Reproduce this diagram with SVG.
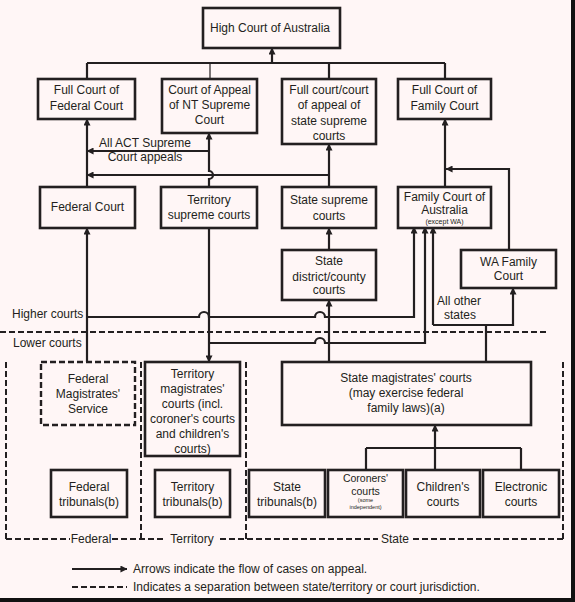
<svg xmlns="http://www.w3.org/2000/svg" width="575" height="602" viewBox="0 0 575 602">
<style>
text{font-family:"Liberation Sans",Arial,sans-serif;font-size:12px;fill:#231f20;text-anchor:middle}
.l{text-anchor:start}
.sm{font-size:7px}
.cr{font-size:10.5px}
.xs{font-size:5.5px}
.box{fill:none;stroke:#231f20;stroke-width:2.6}
.dbox{fill:none;stroke:#231f20;stroke-width:2.4;stroke-dasharray:6 3}
.c{fill:none;stroke:#231f20;stroke-width:2.2}
.a{marker-end:url(#ah)}
.d{fill:none;stroke:#231f20;stroke-width:2;stroke-dasharray:6 3}
</style>
<defs>
<marker id="ah" viewBox="0 0 8 8" refX="7.5" refY="4" markerWidth="7" markerHeight="7" markerUnits="userSpaceOnUse" orient="auto">
<path d="M0,0 L8,4 L0,8 z" fill="#231f20"/>
</marker>
</defs>
<rect width="575" height="602" fill="#fff6f6"/>
<rect x="571" y="0" width="4" height="602" fill="#111"/>
<rect x="0" y="598" width="575" height="4" fill="#111"/>

<g id="connectors">
<path class="c" d="M87,63 H445"/>
<path class="c" d="M87,63 V79 M329,63 V79 M445,63 V79"/>
<path d="M210,63 V79" fill="none" stroke="#231f20" stroke-width="1.2"/>
<path class="c a" d="M272,63 V48"/>
<path class="c a" d="M87,187 V119"/>
<path class="c a" d="M209,151 H87"/>
<path class="c a" d="M329,175 H87"/>
<path class="c a" d="M209,187 V179 a4,4 0 0 0 0,-8 V133"/>
<path class="c a" d="M329,187 V144"/>
<path class="c a" d="M445,187 V119"/>
<path class="c a" d="M509,250 V169 H446"/>
<path class="c a" d="M329,250 V228"/>
<path class="c a" d="M329,362 V300"/>
<path class="c a" d="M87,362 V228"/>
<path class="c a" d="M87,317 H199 a5,5 0 0 1 10,0 H315 a5,5 0 0 1 10,0 H414 V227"/>
<path class="c a" d="M209,228 V362"/>
<path class="c a" d="M209,343 H315 a5,5 0 0 1 10,0 H425 V227"/>
<path class="c a" d="M433,325 V227"/>
<path class="c a" d="M433,325 H513 V288"/>
<path class="c" d="M486,362 V325"/>
<path class="c a" d="M435,448 V425"/>
<path class="c" d="M366,448 H521 M366,448 V470 M435,448 V470 M521,448 V470"/>
</g>

<g id="separators">
<path class="d" d="M0,332 H548"/>
<path class="d" d="M6,362 V539 M141,362 V539 M246,362 V539 M563,362 V539"/>
<path class="d" d="M6,539 H70 M112,539 H165 M220,539 H378 M413,539 H563"/>
<text x="91" y="543">Federal</text>
<text x="192" y="543">Territory</text>
<text x="395" y="543">State</text>
<text class="l" x="12" y="318">Higher courts</text>
<text class="l" x="13" y="347">Lower courts</text>
<text x="145" y="147">All ACT Supreme</text>
<text x="145" y="161">Court appeals</text>
<text x="459" y="305">All other</text>
<text x="460" y="319">states</text>
</g>

<g id="high"><rect class="box" x="203" y="8" width="137" height="40"/><text x="270" y="32">High Court of Australia</text></g>
<g id="fullFed"><rect class="box" x="38" y="79" width="97" height="40"/><text x="86.5" y="94">Full Court of</text><text x="86.5" y="110">Federal Court</text></g>
<g id="ntApp"><rect class="box" x="162" y="79" width="95" height="54"/><text x="209.5" y="94">Court of Appeal</text><text x="209.5" y="109">of NT Supreme</text><text x="209.5" y="124">Court</text></g>
<g id="fullState"><rect class="box" x="282" y="79" width="94" height="65"/><text x="329" y="94">Full court/court</text><text x="329" y="109">of appeal of</text><text x="329" y="125">state supreme</text><text x="329" y="140">courts</text></g>
<g id="fullFam"><rect class="box" x="398" y="79" width="93" height="40"/><text x="444.5" y="94">Full Court of</text><text x="444.5" y="110">Family Court</text></g>

<g id="fedCourt"><rect class="box" x="40" y="187" width="95" height="41"/><text x="87.5" y="211">Federal Court</text></g>
<g id="terrSup"><rect class="box" x="161" y="187" width="96" height="41"/><text x="209" y="204">Territory</text><text x="209" y="219">supreme courts</text></g>
<g id="stateSup"><rect class="box" x="282" y="187" width="94" height="41"/><text x="329" y="204">State supreme</text><text x="329" y="220">courts</text></g>
<g id="famCourt"><rect class="box" x="398" y="187" width="93" height="41"/><text x="444.5" y="201">Family Court of</text><text x="444.5" y="214">Australia</text><text class="sm" x="444.5" y="223.5">(except WA)</text></g>

<g id="stateDist"><rect class="box" x="282" y="250" width="94" height="50"/><text x="329" y="265">State</text><text x="329" y="281">district/county</text><text x="329" y="294">courts</text></g>
<g id="waFam"><rect class="box" x="461" y="250" width="95" height="38"/><text x="508.5" y="266">WA Family</text><text x="508.5" y="280">Court</text></g>

<g id="fedMag"><rect class="dbox" x="41" y="362" width="94" height="63"/><text x="88" y="383">Federal</text><text x="88" y="398">Magistrates'</text><text x="88" y="413">Service</text></g>
<g id="terrMag"><rect class="box" x="145" y="362" width="95" height="94"/><text x="192.5" y="378">Territory</text><text x="192.5" y="393">magistrates'</text><text x="192.5" y="408">courts (incl.</text><text x="192.5" y="423">coroner's courts</text><text x="192.5" y="438">and children's</text><text x="192.5" y="453">courts)</text></g>
<g id="stateMag"><rect class="box" x="282" y="362" width="249" height="63"/><text x="406" y="382">State magistrates' courts</text><text x="406" y="397">(may exercise federal</text><text x="406" y="412">family laws)(a)</text></g>

<g id="fedTrib"><rect class="box" x="51" y="470" width="76" height="47"/><text x="89" y="491">Federal</text><text x="89" y="506">tribunals(b)</text></g>
<g id="terrTrib"><rect class="box" x="155" y="470" width="75" height="47"/><text x="192.5" y="491">Territory</text><text x="192.5" y="506">tribunals(b)</text></g>
<g id="stateTrib"><rect class="box" x="249" y="470" width="76" height="47"/><text x="287" y="491">State</text><text x="287" y="506">tribunals(b)</text></g>
<g id="coroners"><rect class="box" x="328" y="470" width="75" height="47"/><text class="cr" x="365.5" y="482">Coroners'</text><text class="cr" x="365.5" y="494.5">courts</text><text class="xs" x="365.5" y="502">(some</text><text class="xs" x="365.5" y="508.5">independent)</text></g>
<g id="children"><rect class="box" x="406" y="470" width="74" height="47"/><text x="443" y="491">Children's</text><text x="443" y="506">courts</text></g>
<g id="electronic"><rect class="box" x="483" y="470" width="76" height="47"/><text x="521" y="491">Electronic</text><text x="521" y="506">courts</text></g>

<g id="legend">
<path class="c a" d="M72,569 H127"/>
<text class="l" x="133" y="573">Arrows indicate the flow of cases on appeal.</text>
<path class="d" d="M72,587 H127"/>
<text class="l" x="133" y="591">Indicates a separation between state/territory or court jurisdiction.</text>
</g>
</svg>
